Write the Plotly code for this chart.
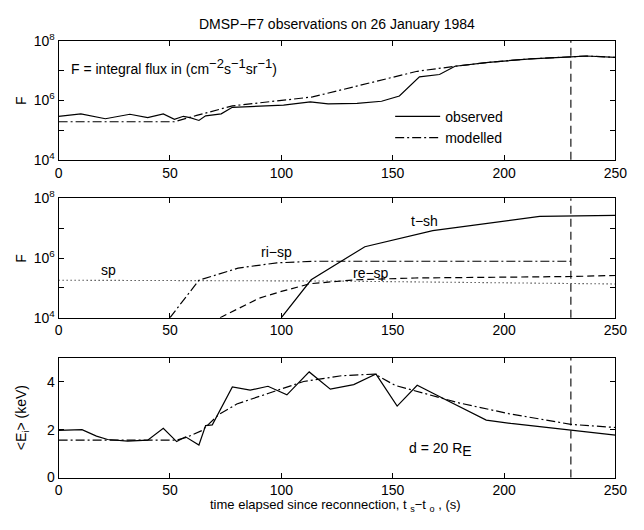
import plotly.graph_objects as go

# ---- panel 1: integral flux, observed vs modelled ----
t_obs = [0, 10, 21, 32, 40, 47, 52, 56, 59, 63, 66, 73, 78, 88, 101, 113, 121,
         134, 145, 153, 162, 171, 178, 193, 212, 230, 237, 250]
F_obs = [2.9e5, 3.5e5, 2.4e5, 3.4e5, 2.6e5, 3.5e5, 2.3e5, 2.9e5, 2.6e5, 2.1e5,
         3.0e5, 3.5e5, 5.8e5, 6.2e5, 6.9e5, 8.9e5, 7.6e5, 7.9e5, 9.3e5, 1.4e6,
         6.2e6, 7.4e6, 1.4e7, 1.9e7, 2.5e7, 2.9e7, 3.1e7, 2.8e7]
t_mod = [0, 52, 62, 78, 114, 161, 178, 193, 212, 230, 237, 250]
F_mod = [1.9e5, 1.9e5, 3.1e5, 6.5e5, 1.3e6, 9.5e6, 1.4e7, 1.9e7, 2.5e7, 2.9e7,
         3.1e7, 2.8e7]

# ---- panel 2: model components ----
t_sp = [0, 120, 250]
F_sp = [1.8e5, 1.7e5, 1.35e5]
t_risp = [50, 63, 80.6, 98, 115, 230]
F_risp = [1e4, 1.8e5, 4.6e5, 6.9e5, 7.8e5, 7.8e5]
t_resp = [72.5, 90, 100, 113, 133, 160, 230, 250]
F_resp = [1e4, 4.5e4, 7.6e4, 1.38e5, 1.86e5, 2.14e5, 2.4e5, 2.6e5]
t_tsh = [100, 113.4, 137.5, 168, 216, 250]
F_tsh = [1e4, 1.86e5, 2.4e6, 8.3e6, 2.5e7, 2.7e7]

# ---- panel 3: mean energy ----
t_Eobs = [0, 10.5, 17, 22, 31, 40, 47, 53, 57, 63, 66, 69, 78, 86, 94, 102.5,
          112.5, 122, 132.5, 142.5, 152, 161, 172.5, 192, 203, 230, 250]
E_obs = [1.97, 2.0, 1.73, 1.59, 1.52, 1.56, 2.06, 1.50, 1.70, 1.36, 2.17, 2.2,
         3.78, 3.65, 3.81, 3.45, 4.41, 3.69, 3.88, 4.32, 2.98, 3.85, 3.31, 2.4,
         2.26, 1.99, 1.77]
t_Emod = [0, 53, 58, 64.5, 72, 80, 94, 110, 127, 142, 151, 165, 180, 202, 230, 250]
E_mod = [1.56, 1.56, 1.7, 1.97, 2.64, 3.07, 3.51, 4.01, 4.25, 4.32, 3.85, 3.5,
         3.11, 2.67, 2.22, 2.09]

t_mark = 230
x_ticks = [0, 50, 100, 150, 200, 250]
F_ticks = [1e4, 1e5, 1e6, 1e7, 1e8]
F_ticktext = ["10<sup>4</sup>", "", "10<sup>6</sup>", "", "10<sup>8</sup>"]
E_ticks = [0, 2, 4]

W, H = 644, 530
FONT = "Liberation Sans, Arial, sans-serif"
DASHDOT = "9px,3px,2px,3px"
DASHED = "7px,4px"
DOTTED = "1px,3px"


def px_x(p):
    return p / W


def px_y(p):
    return 1 - p / H


xdom = [px_x(56), px_x(627)]
ydoms = [[px_y(155), px_y(32)], [px_y(318.5), px_y(195)], [px_y(484), px_y(360)]]

fig = go.Figure()
line = dict(color="black", width=1.2)

fig.add_trace(go.Scatter(x=t_obs, y=F_obs, mode="lines", name="observed",
                         line=line, xaxis="x", yaxis="y"))
fig.add_trace(go.Scatter(x=t_mod, y=F_mod, mode="lines", name="modelled",
                         line=dict(line, dash=DASHDOT), xaxis="x", yaxis="y"))

fig.add_trace(go.Scatter(x=t_sp, y=F_sp, mode="lines", showlegend=False,
                         line=dict(line, dash=DOTTED, width=1.1), xaxis="x2", yaxis="y2"))
fig.add_trace(go.Scatter(x=t_risp, y=F_risp, mode="lines", showlegend=False,
                         line=dict(line, dash=DASHDOT), xaxis="x2", yaxis="y2"))
fig.add_trace(go.Scatter(x=t_resp, y=F_resp, mode="lines", showlegend=False,
                         line=dict(line, dash=DASHED), xaxis="x2", yaxis="y2"))
fig.add_trace(go.Scatter(x=t_tsh, y=F_tsh, mode="lines", showlegend=False,
                         line=line, xaxis="x2", yaxis="y2"))

fig.add_trace(go.Scatter(x=t_Eobs, y=E_obs, mode="lines", showlegend=False,
                         line=line, xaxis="x3", yaxis="y3"))
fig.add_trace(go.Scatter(x=t_Emod, y=E_mod, mode="lines", showlegend=False,
                         line=dict(line, dash=DASHDOT), xaxis="x3", yaxis="y3"))

axis_common = dict(showline=True, linecolor="black", linewidth=1, mirror="ticks",
                   ticks="inside", ticklen=5, tickcolor="black", tickwidth=1,
                   showgrid=False, zeroline=False,
                   tickfont=dict(family=FONT, size=14, color="black"))

layout = dict(width=W, height=H, margin=dict(l=0, r=0, t=0, b=0),
              paper_bgcolor="white", plot_bgcolor="white",
              font=dict(family=FONT, size=13, color="black"))

for i in range(3):
    sx = "" if i == 0 else str(i + 1)
    layout["xaxis" + sx] = dict(axis_common, domain=xdom, range=[0, 250],
                                tickvals=x_ticks, anchor="y" + sx)
    if i < 2:
        layout["yaxis" + sx] = dict(axis_common, domain=ydoms[i], type="log",
                                    range=[4, 8], tickvals=F_ticks,
                                    ticktext=F_ticktext, anchor="x" + sx)
    else:
        layout["yaxis" + sx] = dict(axis_common, domain=ydoms[i], range=[0, 5],
                                    tickvals=E_ticks, anchor="x" + sx)

fig.update_layout(**layout)

# marker line at t = t_mark in every panel
for i in range(3):
    sx = "" if i == 0 else str(i + 1)
    fig.add_shape(type="line", xref="x" + sx, yref="y" + sx + " domain",
                  x0=t_mark, x1=t_mark, y0=0, y1=1,
                  line=dict(color="black", width=1.1, dash="8px,5px"))

fig.update_layout(
    showlegend=True,
    legend=dict(x=px_x(396), y=px_y(94), xanchor="left", yanchor="top",
                bgcolor="rgba(0,0,0,0)", borderwidth=0, itemwidth=45,
                tracegroupgap=0, font=dict(family=FONT, size=14, color="black")),
)

SUP = '<sup><span style="font-size:13px">{}</span></sup>'
ann = []
ann.append(dict(text="DMSP−F7 observations on 26 January 1984", xref="paper", yref="paper",
                x=px_x(341.5), y=px_y(14), showarrow=False, font=dict(size=14),
                xanchor="center", yanchor="middle"))
ann.append(dict(text="F = integral flux in (cm" + SUP.format("−2") + "s" + SUP.format("−1")
                + "sr" + SUP.format("−1") + ")",
                xref="x", yref="y", x=4.8, y=7.15, showarrow=False, font=dict(size=14),
                xanchor="left", yanchor="middle"))
for txt, tx, ty in [("sp", 22.3, 5.6), ("ri−sp", 98, 6.2), ("re−sp", 140.4, 5.51),
                    ("t−sh", 164.5, 7.24)]:
    ann.append(dict(text=txt, xref="x2", yref="y2", x=tx, y=ty, showarrow=False,
                    font=dict(size=14), xanchor="center", yanchor="middle"))
ann.append(dict(text='d = 20 R<sub><span style="font-size:14px">E</span></sub>',
                xref="x3", yref="y3", x=171.6, y=1.16,
                showarrow=False, font=dict(size=14), xanchor="center", yanchor="middle"))
for txt, yy in [("F", 93.5), ("F", 257), ("&lt;E<sub>i</sub>&gt; (keV)", 422)]:
    ann.append(dict(text=txt, xref="paper", yref="paper", x=px_x(18), y=px_y(yy),
                    showarrow=False, textangle=-90, font=dict(size=14),
                    xanchor="center", yanchor="middle"))
ann.append(dict(text="time elapsed since reconnection, t <sub>s</sub>−t <sub>o</sub> , (s)",
                xref="paper", yref="paper", x=px_x(340), y=px_y(513), showarrow=False,
                font=dict(size=13), xanchor="center", yanchor="middle"))
fig.update_layout(annotations=ann)

fig.write_html("out.html")
